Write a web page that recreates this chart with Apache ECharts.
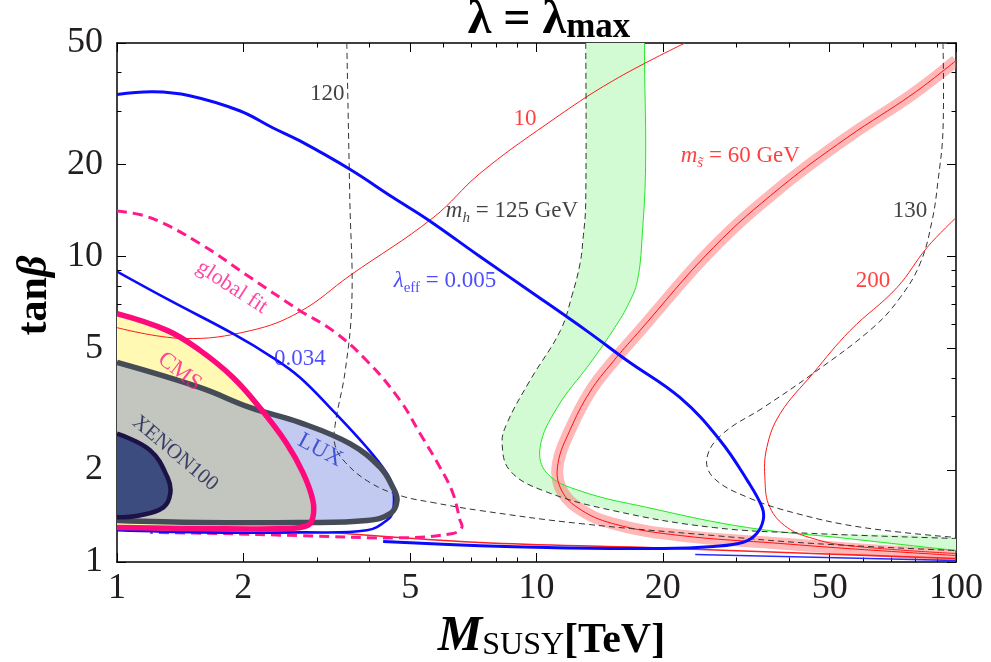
<!DOCTYPE html>
<html><head><meta charset="utf-8">
<script src="https://cdn.jsdelivr.net/npm/echarts@6/dist/echarts.min.js"></script>
<style>html,body{margin:0;padding:0;background:#fff}#c{width:991px;height:662px}</style>
</head><body><div id="c"></div>
<script>
// ---- axis ticks ----
const xTicks = [1, 2, 5, 10, 20, 50, 100];
const xMinor = [3, 4, 6, 7, 8, 9, 30, 40, 60, 70, 80, 90];
const yTicks = [1, 2, 5, 10, 20, 50];
const yMinor = [3, 4, 6, 7, 8, 9, 30, 40];

// ---- curves: [M_SUSY (TeV), tanβ] ----
const lamEff005 = [[1,33.9],[1.22,34.6],[1.49,33.6],[1.96,30.0],[2.35,26.4],[2.73,23.9],[3.59,19.3],[4.55,15.6],[5.51,13.2],[7.33,10.0],[9.65,7.70],[13.2,5.70],[16.5,4.55],[22.0,3.45],[27.4,2.50],[31.8,1.85],[34.5,1.51],[34.7,1.37],[33.5,1.24],[31.1,1.16],[26.4,1.124],[20.0,1.107],[10.6,1.115],[7.33,1.13],[4.31,1.167]];
const lamEff005Low = [[23.9,1.058],[100,1.011]];
const lamEff034 = [[1,8.93],[1.34,7.17],[1.89,5.59],[2.35,4.67],[2.73,4.02],[3.27,3.13],[3.94,2.37],[4.40,1.95],[4.55,1.75],[4.55,1.47],[4.40,1.37],[3.94,1.27],[2.73,1.25],[1.58,1.25],[1,1.27]];
const globalFit = [[1,14.1],[1.2,13.4],[1.58,11.0],[2.08,8.53],[2.73,6.65],[3.27,5.72],[3.94,4.56],[4.73,3.38],[5.28,2.63],[5.89,2.04],[6.32,1.68],[6.57,1.37],[6.64,1.30],[6.32,1.24],[4.73,1.20],[2.73,1.22],[1.73,1.24],[1.2,1.25]];
const cmsBound = [[1,6.5],[1.32,5.72],[1.58,4.92],[1.89,4.02],[2.19,3.20],[2.54,2.44],[2.78,1.95],[2.93,1.59],[2.93,1.40],[2.84,1.316],[2.49,1.287],[1.58,1.287],[1,1.297]];
const luxBound = [[1,4.5],[1.58,3.72],[2.08,3.20],[2.73,2.86],[3.59,2.44],[4.24,2.04],[4.55,1.75],[4.65,1.59],[4.48,1.44],[3.94,1.367],[2.73,1.347],[1.58,1.347],[1,1.367]];
const xenonBound = [[1,2.63],[1.2,2.32],[1.32,1.89],[1.34,1.68],[1.29,1.51],[1.13,1.42],[1,1.40]];
const ms10 = [[1,5.85],[1.44,5.39],[2.08,5.72],[2.73,6.60],[3.59,8.66],[5.67,13.4],[7.33,18.7],[10.6,27.2],[15.2,37.6],[22.6,50]];
const ms10Low = [[3.27,1.249],[7.33,1.158],[18.3,1.115],[45.6,1.066],[100,1.027]];
const ms60 = [[100,43.8],[79.0,34.1],[55.0,24.5],[38.1,16.8],[26.4,10.7],[17.4,5.60],[15.2,4.52],[13.4,3.60],[12.0,2.69],[11.25,2.10],[11.4,1.75],[12.5,1.51],[15.2,1.336],[22.0,1.221],[38.1,1.150],[55.0,1.107],[100,1.050]];
const ms200 = [[100,13.4],[85.3,10.7],[72.3,7.91],[55.9,5.72],[45.6,4.14],[38.1,3.06],[35.4,2.37],[35.05,1.85],[36.0,1.51],[39.6,1.297],[45.6,1.194],[55.0,1.132],[100,1.066]];
const mh120 = [[3.53,50],[3.59,15.2],[3.63,7.17],[3.50,4.23],[3.31,2.80],[3.31,2.41],[3.50,2.12],[4.01,1.82],[4.73,1.65],[5.67,1.565],[7.33,1.474],[12.7,1.336],[26.4,1.221],[45.6,1.150],[100,1.090]];
const mh125 = [[13.1,50],[13.1,14.9],[12.9,11.3],[12.7,9.48],[12.15,7.45],[11.4,5.72],[9.65,3.93],[8.5,2.84],[8.28,2.44],[8.65,1.99],[10.4,1.71],[15.2,1.474],[26.4,1.297],[45.6,1.240],[100,1.194]];
const mh130 = [[93.1,50],[93.1,25.8],[90.6,17.7],[87.7,13.1],[82.1,9.48],[73.6,7.34],[63.4,5.85],[45.6,4.14],[34.7,3.20],[27.8,2.63],[25.5,2.20],[26.4,1.89],[31.8,1.63],[41.8,1.44],[60,1.297],[100,1.203]];
const greenEdge = [[18.1,50],[18.1,42.8],[18.2,20.1],[17.9,12.2],[17.4,8.34],[16.5,6.91],[15.2,5.72],[13.4,4.46],[11.2,3.20],[10.2,2.37],[10.6,1.95],[12.7,1.71],[18.3,1.51],[31.8,1.297],[55,1.194],[100,1.090]];

// ---- annotation anchors [M_SUSY, tanβ] and texts ----
const labelAt = {
  mh120:[3.17,34.1], ms10:[9.39,28.3], ms60:[30.6,21.4], mh125:[8.74,14.1], mh130:[77.7,14.1],
  ms200:[63.4,8.34], lam005:[6.05,8.34], lam034:[2.73,4.63], globalFit:[1.88,7.93],
  cms:[1.41,4.20], lux:[3.05,2.32], xenon:[1.375,2.27]
};
const labelText = {
  mh120:'120', ms10:'10', ms60:'{i|m}{si|s\u0303}{n| = 60 GeV}', mh125:'{i|m}{si|h}{n| = 125 GeV}',
  mh130:'130', ms200:'200', lam005:'{i|\u03bb}{s|eff}{n| = 0.005}', lam034:'0.034',
  globalFit:'global fit', cms:'CMS', lux:'LUX', xenon:'XENON100'
};

const SERIF = "'Liberation Serif','Times New Roman',serif";
const SMOOTH = 0.4;

function clipRect(params){ const c = params.coordSys; return {type:'rect', shape:{x:c.x, y:c.y, width:c.width, height:c.height}}; }
// smooth curve (optionally filled) drawn through the cartesian coordinate system
function curve(pts, st, z){
  return {type:'custom', coordinateSystem:'cartesian2d', xAxisIndex:0, yAxisIndex:0, data:[[1,1]], silent:true, animation:false, z:z,
    renderItem:function(params, api){
      return {type:'group', clipPath: clipRect(params), children:[{type:'polyline',
        shape:{points: pts.map(p => api.coord(p)), smooth: SMOOTH},
        style:{fill: st.fill || null, stroke: st.stroke || null, lineWidth: st.width || 1,
               lineDash: st.dash || null, opacity: st.opacity == null ? 1 : st.opacity, lineJoin:'round', lineCap:'butt'}}]};
    }};
}

function xAx(position, vals, len, extra){
  return Object.assign({type:'log', logBase:10, min:1, max:100, position:position,
    axisLine:{show:false}, splitLine:{show:false}, minorTick:{show:false},
    axisTick:{show:true, inside:true, length:len, customValues: vals, lineStyle:{color:'#000', width:1}},
    axisLabel:{show:false}}, extra || {});
}
function yAx(position, vals, len, extra){
  return Object.assign({type:'log', logBase:10, min:1, max:50, position:position,
    axisLine:{show:false}, splitLine:{show:false}, minorTick:{show:false},
    axisTick:{show:true, inside:true, length:len, customValues: vals, lineStyle:{color:'#000', width:1}},
    axisLabel:{show:false}}, extra || {});
}
const frameLine = {show:true, onZero:false, lineStyle:{color:'#000', width:1.5}};
const tickLabel = (vals, margin) => ({show:true, customValues: vals, formatter: v => String(v), fontFamily: SERIF, fontSize: 36, color:'#231f20', margin: margin});

function rich(color, size){
  const ss = Math.round(size*0.65);
  return {
    n:{fontFamily:SERIF, fontSize:size, color:color, lineHeight:size+6, verticalAlign:'middle'},
    i:{fontFamily:SERIF, fontSize:size, fontStyle:'italic', color:color, lineHeight:size+6, verticalAlign:'middle'},
    s:{fontFamily:SERIF, fontSize:ss, color:color, lineHeight:ss, verticalAlign:'bottom'},
    si:{fontFamily:SERIF, fontSize:ss, fontStyle:'italic', color:color, lineHeight:ss, verticalAlign:'bottom'}
  };
}
const labelStyle = {
  mh120:{color:'#111', rot:0, size:23}, ms10:{color:'#ff1010', rot:0, size:23}, ms60:{color:'#ff1010', rot:0, size:23},
  mh125:{color:'#111', rot:0, size:23}, mh130:{color:'#111', rot:0, size:23}, ms200:{color:'#ff1010', rot:0, size:23},
  lam005:{color:'#2020ff', rot:0, size:23}, lam034:{color:'#2020ff', rot:0, size:23},
  globalFit:{color:'#ff1a8c', rot:-33, size:22}, cms:{color:'#ff1a8c', rot:-38, size:23},
  lux:{color:'#2233cc', rot:-28, size:23}, xenon:{color:'#1a1a50', rot:-40, size:21}
};
const annoData = Object.keys(labelAt).map(k => {
  const st = labelStyle[k];
  const t = labelText[k];
  return {value: labelAt[k], label:{show:true, position:'inside', rotate: st.rot,
    formatter: t.indexOf('{') >= 0 ? t : '{n|' + t + '}', rich: rich(st.color, st.size)}};
});

const option = {
  backgroundColor:'#fff',
  animation:false,
  title:{text:'{a|\u03bb = \u03bb}{b|max}', left:549, top:-3, padding:0, textAlign:'center',
    textStyle:{rich:{
      a:{fontFamily:SERIF, fontWeight:'bold', fontSize:48, color:'#000', lineHeight:48, verticalAlign:'bottom'},
      b:{fontFamily:SERIF, fontWeight:'bold', fontSize:35, color:'#000', lineHeight:35, verticalAlign:'bottom'}}}},
  grid:{left:117, right:35, top:43, bottom:100, containLabel:false, outerBoundsMode:'none'},
  xAxis:[
    xAx('bottom', xTicks, 9, {axisLine:frameLine, axisLabel: tickLabel(xTicks, 9),
      name:'{m|M}{s|SUSY}{b|[TeV]}', nameLocation:'middle', nameGap:47,
      nameTextStyle:{padding:[0,0,0,30], rich:{
        m:{fontFamily:SERIF, fontStyle:'italic', fontWeight:'bold', fontSize:50, color:'#000', verticalAlign:'bottom', lineHeight:50},
        s:{fontFamily:SERIF, fontSize:32, color:'#000', verticalAlign:'bottom', lineHeight:44},
        b:{fontFamily:SERIF, fontWeight:'bold', fontSize:42, color:'#000', verticalAlign:'bottom', lineHeight:48}}}}),
    xAx('bottom', xMinor, 4.5),
    xAx('top', xTicks, 9, {axisLine:frameLine}),
    xAx('top', xMinor, 4.5)
  ],
  yAxis:[
    yAx('left', yTicks, 9, {axisLine:frameLine, axisLabel: tickLabel(yTicks, 14),
      name:'{a|tan}{b|\u03b2}', nameLocation:'middle', nameGap:58, nameRotate:90,
      nameTextStyle:{padding:[0,0,0,14], rich:{
        a:{fontFamily:SERIF, fontWeight:'bold', fontSize:42, color:'#000'},
        b:{fontFamily:SERIF, fontWeight:'bold', fontStyle:'italic', fontSize:42, color:'#000'}}}}),
    yAx('left', yMinor, 4.5),
    yAx('right', yTicks, 9, {axisLine:frameLine}),
    yAx('right', yMinor, 4.5)
  ],
  series:[
    // filled regions
    curve(greenEdge.concat(mh125.slice().reverse()), {fill:'#d3fbd3'}, 1),
    curve(cmsBound, {fill:'#fff9b4'}, 1),
    curve(luxBound, {fill:'rgba(70,94,216,0.33)'}, 1),
    curve(xenonBound, {fill:'#3d4c7e'}, 1),
    // m_s = 60 GeV band
    curve(ms60, {stroke:'#ff7070', width:12, opacity:0.5}, 2),
    // thin contours
    curve(greenEdge, {stroke:'#22e822', width:1}, 3),
    curve(ms10, {stroke:'#ff1a1a', width:1}, 3),
    curve(ms10Low, {stroke:'#ff2020', width:1.6}, 3),
    curve(ms200, {stroke:'#ff1a1a', width:1}, 3),
    curve(ms60, {stroke:'#ff1010', width:1}, 3),
    curve(mh120, {stroke:'#333', width:1, dash:[6,4]}, 3),
    curve(mh125, {stroke:'#333', width:1, dash:[6,4]}, 3),
    curve(mh130, {stroke:'#333', width:1, dash:[6,4]}, 3),
    // global fit and lambda_eff contours
    curve(globalFit, {stroke:'#ff1a8c', width:3, dash:[10,6]}, 4),
    curve(lamEff034, {stroke:'#0a0aff', width:2.6}, 5),
    curve(lamEff005, {stroke:'#0a0aff', width:3}, 5),
    curve(lamEff005Low, {stroke:'#2a2aff', width:1.6}, 5),
    // exclusion boundaries
    curve(luxBound, {stroke:'#464c57', width:5.5}, 6),
    curve(cmsBound, {stroke:'#ff0a7c', width:5.5}, 6),
    curve(xenonBound, {stroke:'#1c1246', width:4.5}, 6),
    {type:'scatter', symbolSize:1, itemStyle:{color:'rgba(0,0,0,0)'}, silent:true, animation:false, z:10, data: annoData}
  ]
};
const chart = echarts.init(document.getElementById('c'));
chart.setOption(option);
</script>
</body></html>
